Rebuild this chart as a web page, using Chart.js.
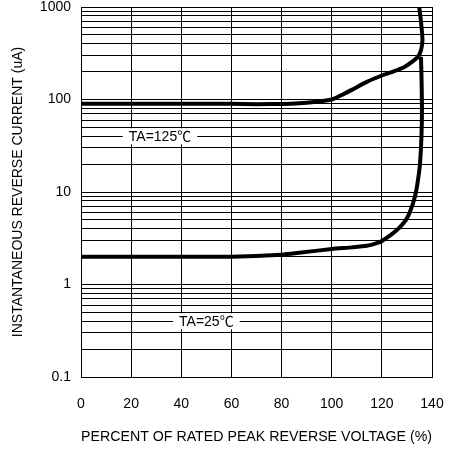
<!DOCTYPE html>
<html lang="en">
<head>
    <meta charset="UTF-8">
    <title>Instantaneous Reverse Current</title>
    <script src="https://cdn.jsdelivr.net/npm/chart.js"></script>
    <style>
        html, body { margin: 0; padding: 0; background: #fff; }
        #wrap { width: 449px; height: 452px; }
    </style>
</head>
<body>
    <div id="wrap"><canvas id="irChart"></canvas></div>

    <script>
        // curve: TA=125 C
        const t125X = [0, 20, 40, 60, 70, 80, 87, 93, 100, 104, 108, 114, 120.5, 125, 129, 132, 134.4, 135.6, 136.2, 135.6, 134.9];
        const t125Y = [90, 90, 90, 90, 89, 89.5, 91, 94, 100, 112, 127, 155, 184, 203, 225, 255, 290, 340, 440, 700, 1000];

        // curve: TA=25 C
        const t25X = [0, 20, 40, 60, 80, 87, 100, 108, 114, 118, 120, 124, 127.3, 130, 132.4, 133.6, 134.5, 135.2, 135.8, 136, 135.8, 135.6];
        const t25Y = [2, 2, 2, 2, 2.1, 2.2, 2.42, 2.52, 2.62, 2.8, 2.95, 3.5, 4.2, 5.2, 7.5, 10, 14, 20, 40, 80, 180, 290];

        const xTicks = [0, 20, 40, 60, 80, 100, 120, 140];
        const yTickLabels = [0.1, 1, 10, 100, 1000];
        const yMinor = [2, 3, 4, 5, 6, 7, 8, 9];

        // curve labels (text, x, y in data units)
        const curveLabels = [
            { text: 'TA=125\u2103', x: 31.5, y: 40 },
            { text: 'TA=25\u2103', x: 50, y: 0.4 }
        ];

        const FONT = "'Liberation Sans', Arial, 'Noto Sans CJK SC', sans-serif";

        const toPoints = (xs, ys) => xs.map((x, i) => ({ x: x, y: ys[i] }));

        const yGrid = [];
        yTickLabels.forEach(function (v, i) {
            yGrid.push(v);
            if (i < yTickLabels.length - 1) yMinor.forEach(m => yGrid.push(m * v));
        });

        const labelPlugin = {
            id: 'curveLabels',
            afterDatasetsDraw(chart) {
                const ctx = chart.ctx;
                const xs = chart.scales.x, ys = chart.scales.y;
                ctx.save();
                ctx.font = '14px ' + FONT;
                ctx.textBaseline = 'middle';
                ctx.textAlign = 'center';
                curveLabels.forEach(function (l) {
                    const px = xs.getPixelForValue(l.x);
                    const py = ys.getPixelForValue(l.y);
                    const w = ctx.measureText(l.text).width + 12;
                    ctx.fillStyle = '#fff';
                    ctx.fillRect(px - w / 2, py - 8, w, 16);
                    ctx.fillStyle = '#000';
                    ctx.fillText(l.text, px, py + 1);
                });
                ctx.restore();
            }
        };

        const lineStyle = { borderColor: '#000', borderWidth: 4, pointRadius: 0, showLine: true, tension: 0.2, fill: false };

        new Chart(document.getElementById('irChart'), {
            type: 'scatter',
            data: {
                datasets: [
                    Object.assign({ label: 'TA=125', data: toPoints(t125X, t125Y) }, lineStyle),
                    Object.assign({ label: 'TA=25', data: toPoints(t25X, t25Y) }, lineStyle)
                ]
            },
            plugins: [labelPlugin],
            options: {
                responsive: true,
                maintainAspectRatio: false,
                animation: false,
                layout: { padding: { left: 0, right: 17, top: 7, bottom: 0 } },
                plugins: { legend: { display: false }, tooltip: { enabled: false } },
                scales: {
                    x: {
                        type: 'linear',
                        min: 0,
                        max: 140,
                        afterBuildTicks: s => { s.ticks = xTicks.map(v => ({ value: v })); },
                        afterFit: s => { s.height = 75; s.paddingLeft = 0; s.paddingRight = 0; },
                        grid: { color: '#000', lineWidth: 1, drawTicks: false },
                        border: { color: '#000', width: 1 },
                        ticks: { color: '#000', padding: 19, font: { family: FONT, size: 14 } },
                        title: {
                            display: true,
                            text: 'PERCENT OF RATED PEAK REVERSE VOLTAGE (%)',
                            color: '#000',
                            font: { family: FONT, size: 14.9 },
                            padding: { top: 0, bottom: 6 }
                        }
                    },
                    y: {
                        type: 'logarithmic',
                        min: 0.1,
                        max: 1000,
                        afterBuildTicks: s => { s.ticks = yGrid.map(v => ({ value: v })); },
                        afterFit: s => { s.width = 81; s.paddingTop = 0; s.paddingBottom = 0; },
                        grid: { color: '#000', lineWidth: 1, drawTicks: false },
                        border: { color: '#000', width: 1 },
                        ticks: {
                            color: '#000',
                            padding: 10,
                            autoSkip: false,
                            font: { family: FONT, size: 14 },
                            callback: v => yTickLabels.includes(v) ? String(v) : ''
                        },
                        title: {
                            display: true,
                            text: 'INSTANTANEOUS REVERSE CURRENT (uA)',
                            color: '#000',
                            font: { family: FONT, size: 14 },
                            padding: { top: 10, bottom: 0 }
                        }
                    }
                }
            }
        });
    </script>
</body>
</html>
